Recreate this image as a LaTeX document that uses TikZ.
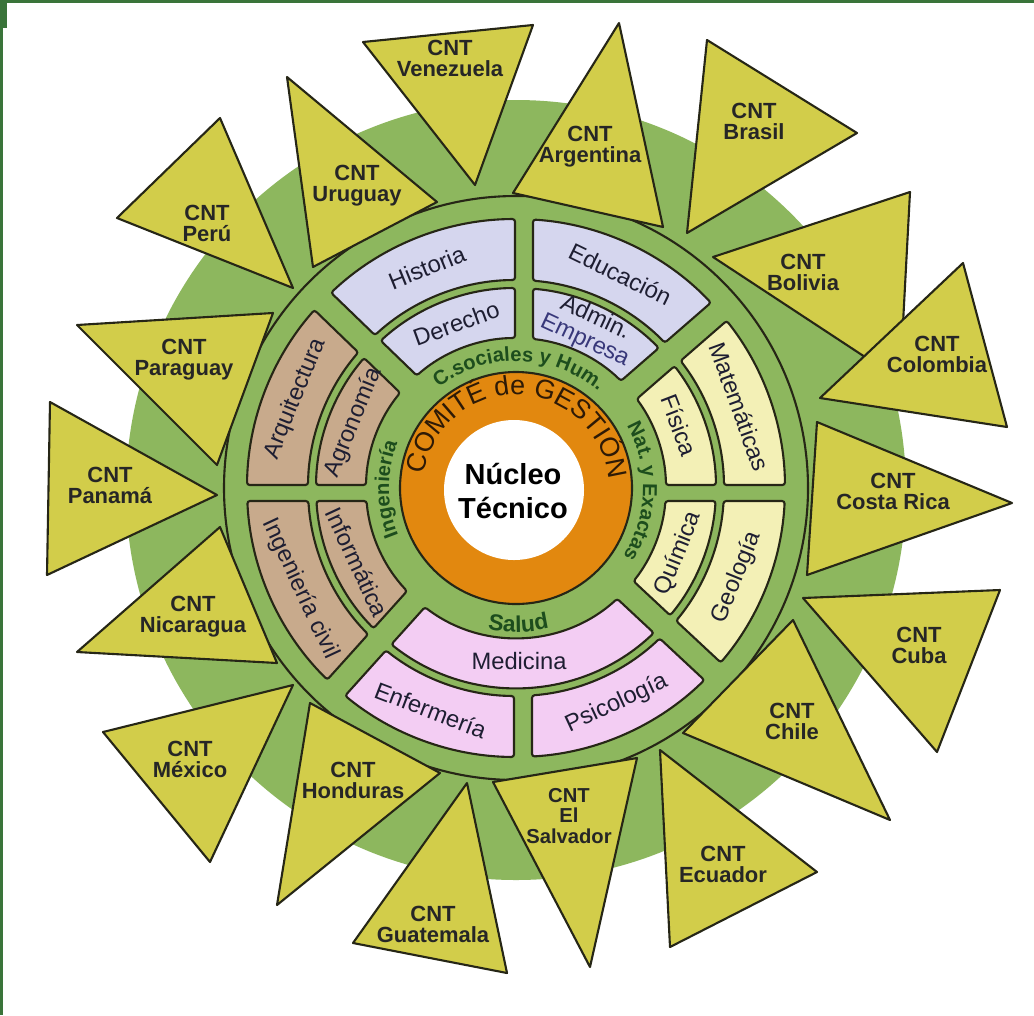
\documentclass[tikz,border=0pt]{standalone}
\usepackage{fontspec}
\setmainfont{Liberation Sans}
\usetikzlibrary{decorations.text}

\definecolor{framegreen}{HTML}{3A743A}
\definecolor{discgreen}{HTML}{8DB75E}
\definecolor{flag}{HTML}{D2CD4A}
\definecolor{ink}{HTML}{262616}
\definecolor{cellblue}{HTML}{D5D6EE}
\definecolor{celltan}{HTML}{C8AA8C}
\definecolor{cellyellow}{HTML}{F3F0B6}
\definecolor{cellpink}{HTML}{F3CDF3}
\definecolor{comite}{HTML}{E2880F}
\definecolor{comitetext}{HTML}{2E1A06}
\definecolor{ringtext}{HTML}{1D4D1D}
\definecolor{labeltext}{HTML}{1E1E32}
\definecolor{empresatext}{HTML}{38387A}

\newcommand{\ringfont}{\bfseries\fontsize{11.5}{12}\selectfont\color{ringtext}}
\newcommand{\saludfont}{\bfseries\fontsize{13}{13}\selectfont\color{ringtext}}
\newcommand{\comitefont}{\fontsize{15.3}{16}\selectfont\color{comitetext}}

% annular cell: inner r, outer r, start line angle, start offset, end line angle, end offset, fill
\newcommand{\ringcell}[7]{%
  \filldraw[cell, fill=#7]
    ({#3+asin(#4/#2)}:#2) arc[start angle={#3+asin(#4/#2)}, end angle={#5+asin(#6/#2)}, radius=#2]
    -- ({#5+asin(#6/#1)}:#1) arc[start angle={#5+asin(#6/#1)}, end angle={#3+asin(#4/#1)}, radius=#1]
    -- cycle;}

\begin{document}
\begin{tikzpicture}[x=0.02cm, y=-0.02cm,
    flagshape/.style={fill=flag, draw=ink, line width=1.2pt, line join=round},
    cnt/.style={align=center, inner sep=0pt, text=black!85,
      font=\bfseries\fontsize{12.5}{12}\selectfont},
    cell/.style={draw=ink, line width=1.2pt, rounded corners=1.5pt},
    celllabel/.style={inner sep=0pt, text=labeltext, font=\fontsize{13.5}{14}\selectfont},
    core/.style={align=center, inner sep=0pt, font=\bfseries\fontsize{16.5}{19}\selectfont},
    ringtxt/.style={decorate, decoration={text along path, text align=center, text={#1}}}
  ]
  \useasboundingbox (0,0) rectangle (1034,1015);
  \fill[white] (0,0) rectangle (1034,1015);
  % frame
  \fill[framegreen] (0,0) rectangle (1034,3);
  \fill[framegreen] (0,0) rectangle (3,1015);
  \fill[framegreen] (0,0) rectangle (7,28);

  \begin{scope}[shift={(516,488)}, y=0.02cm]
    \fill[discgreen] (0,-2) circle[radius=390];
    \draw[ink, line width=1.2pt] (0,0) circle[radius=292];

    % C. sociales y Hum.
    \ringcell{208}{269}{41}{12}{90}{-17}{cellblue}
    \ringcell{208}{269}{90}{1}{136}{-12}{cellblue}
    \ringcell{150}{200}{41}{12}{90}{-17}{cellblue}
    \ringcell{150}{200}{90}{1}{136}{-12}{cellblue}
    % Ingenieria
    \ringcell{208}{269}{136}{12}{180}{-3}{celltan}
    \ringcell{208}{269}{180}{13}{228}{-12}{celltan}
    \ringcell{150}{200}{136}{12}{180}{-3}{celltan}
    \ringcell{150}{200}{180}{13}{228}{-12}{celltan}
    % Nat. y Exactas
    \ringcell{208}{269}{-43}{12}{0}{-13}{cellyellow}
    \ringcell{208}{269}{0}{3}{41}{-12}{cellyellow}
    \ringcell{150}{200}{-43}{12}{0}{-13}{cellyellow}
    \ringcell{150}{200}{0}{3}{41}{-12}{cellyellow}
    % Salud
    \ringcell{150}{200}{228}{12}{317}{-12}{cellpink}
    \ringcell{208}{269}{228}{12}{270}{-2}{cellpink}
    \ringcell{208}{269}{270}{16}{317}{-12}{cellpink}

    \filldraw[fill=comite, draw=ink, line width=1.2pt] (0,0) circle[radius=116];
    \fill[white] (-2,-2) circle[radius=70];

    \node[celllabel, rotate=-26] (educacion) at (64:238) {Educación};
    \node[celllabel, rotate=22] (historia) at (112:238) {Historia};
    \node[celllabel, rotate=-25, align=center] (admin) at (65:175)
      {Admin.\\\textcolor{empresatext}{Empresa}};
    \node[celllabel, rotate=20] (derecho) at (110:175) {Derecho};
    \node[celllabel, rotate=68] (arquitectura) at (158:238) {Arquitectura};
    \node[celllabel, rotate=-65] (ingcivil) at (205:238) {Ingeniería civil};
    \node[celllabel, rotate=68] (agronomia) at (158:175) {Agronomía};
    \node[celllabel, rotate=-65] (informatica) at (205:175) {Informática};
    \node[celllabel, rotate=-70] (matematicas) at (20:238) {Matemáticas};
    \node[celllabel, rotate=-69] (fisica) at (21:175) {Física};
    \node[celllabel, rotate=68] (geologia) at (-22:238) {Geología};
    \node[celllabel, rotate=68] (quimica) at (-22:175) {Química};
    \node[celllabel] (medicina) at (271:173) {Medicina};
    \node[celllabel, rotate=-21] (enfermeria) at (249:238) {Enfermería};
    \node[celllabel, rotate=25] (psicologia) at (295:238) {Psicología};

    \path[ringtxt={|\ringfont|C.sociales y Hum.}] (130:127) arc[start angle=130, end angle=47, radius=127];
    \path[ringtxt={|\ringfont|Nat. y Exactas}] (34:127) arc[start angle=34, end angle=-37, radius=127];
    \path[ringtxt={|\ringfont|Ingeniería}] (206:127) arc[start angle=206, end angle=155, radius=127];
    \path[ringtxt={|\saludfont|Salud}] (250:144) arc[start angle=250, end angle=292, radius=144];
    \path[ringtxt={|\comitefont|COMITÉ de GESTIÓN}] (179:93) arc[start angle=179, end angle=-2, radius=93];

    \node[core] (nucleo) at (-3,-3) {Núcleo\\Técnico};
  \end{scope}

  % CNT pennants
  \foreach \xa/\ya/\xb/\yb/\xc/\yc in {
      363/42/533/25/475/185, 619/23/513/193/663/227, 707/40/857/133/687/233,
      713/257/910/192/900/380, 963/263/1007/427/820/398, 817/422/1012/503/807/575,
      803/598/1000/590/937/752, 683/733/793/620/890/820, 660/750/817/872/670/947,
      493/782/637/758/590/967, 467/783/353/943/507/973, 310/703/440/773/277/905,
      103/732/293/685/210/862, 220/527/277/663/77/652, 50/402/217/495/47/575,
      77/325/273/313/217/465, 220/118/117/218/293/288, 287/77/437/202/313/267}
    \filldraw[flagshape] (\xa,\ya) -- (\xb,\yb) -- (\xc,\yc) -- cycle;

  \node[cnt] (venezuela) at (450,58) {CNT\\Venezuela};
  \node[cnt] (argentina) at (590,147) {CNT\\Argentina};
  \node[cnt] (brasil) at (754,121) {CNT\\Brasil};
  \node[cnt] (bolivia) at (803,272) {CNT\\Bolivia};
  \node[cnt] (colombia) at (937,354) {CNT\\Colombia};
  \node[cnt] (costarica) at (893,491) {CNT\\Costa Rica};
  \node[cnt] (cuba) at (919,645) {CNT\\Cuba};
  \node[cnt] (chile) at (792,721) {CNT\\Chile};
  \node[cnt] (ecuador) at (723,864) {CNT\\Ecuador};
  \node[cnt, font=\bfseries\fontsize{11.5}{11.5}\selectfont] (elsalvador) at (569,816) {CNT\\El\\Salvador};
  \node[cnt] (guatemala) at (433,924) {CNT\\Guatemala};
  \node[cnt] (honduras) at (353,780) {CNT\\Honduras};
  \node[cnt] (mexico) at (190,759) {CNT\\México};
  \node[cnt] (nicaragua) at (193,617) {CNT\\Nicaragua};
  \node[cnt] (panama) at (110,485) {CNT\\Panamá};
  \node[cnt] (paraguay) at (184,360) {CNT\\Paraguay};
  \node[cnt] (peru) at (207,223) {CNT\\Perú};
  \node[cnt] (uruguay) at (357,186) {CNT\\Uruguay};
\end{tikzpicture}
\end{document}
